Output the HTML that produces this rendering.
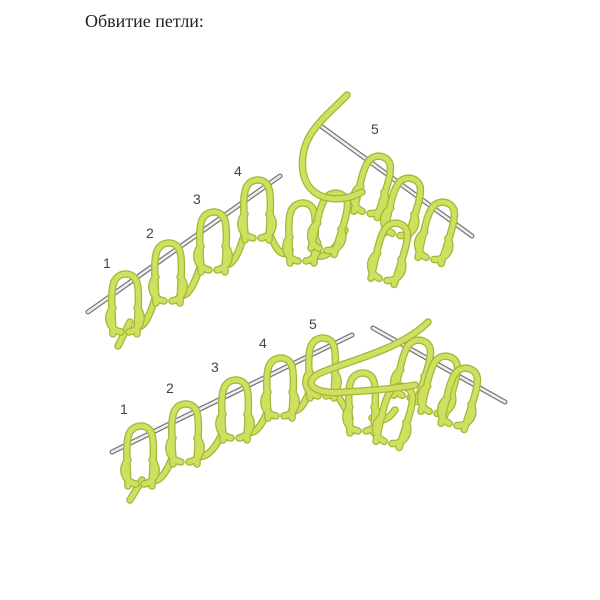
<!DOCTYPE html>
<html><head><meta charset="utf-8"><style>
html,body{margin:0;padding:0;background:#fff;width:600px;height:600px;overflow:hidden}
</style></head><body>
<svg width="600" height="600" viewBox="0 0 600 600" xmlns="http://www.w3.org/2000/svg">
<defs>
<path id="sp" d="M-12,48 C-13,22 -15,2 -10,-6 C-5,-14 7,-14 11,-6 C15,2 13,22 12,48 M-12,22 C-20,30 -16,44 -4,46 M12,22 C20,30 16,44 4,46"/>
<g id="L">
<use href="#sp" fill="none" stroke="#a3b636" stroke-width="7.5" stroke-linecap="round"/>
<use href="#sp" fill="none" stroke="#cfe060" stroke-width="5" stroke-linecap="round"/>
</g>
<path id="ch" d="M137,326 Q146,330 156,295 M180,295 Q190,299 201,264 M225,264 Q235,268 245,232 M269,232 Q280,262 290,250 M314,255 Q330,262 345,230
M152,480 Q162,484 173,456 M197,456 Q210,460 223,432 M247,432 Q258,436 268,410 M292,410 Q301,414 310,390 M334,390 Q346,408 350,418 M372,418 Q385,425 395,410
M118,346 L130,322 M130,500 L142,480"/>
<path id="st" d="M347,95 C325,118 298,135 303,172 C308,200 338,205 362,192 M428,322 C400,350 350,360 318,374 C300,386 320,395 345,392 C380,390 400,388 415,385"/>
</defs>
<text x="85" y="27" font-family="Liberation Serif, serif" font-size="18" fill="#222">Обвитие петли:</text>

<g fill="none" stroke-linecap="round">
<line x1="88" y1="312" x2="280" y2="176" stroke="#777" stroke-width="5"/>
<line x1="88" y1="312" x2="280" y2="176" stroke="#eee" stroke-width="2.5"/>
<line x1="318" y1="124" x2="472" y2="236" stroke="#777" stroke-width="5"/>
<line x1="318" y1="124" x2="472" y2="236" stroke="#eee" stroke-width="2.5"/>
<line x1="112" y1="452" x2="352" y2="335" stroke="#777" stroke-width="5"/>
<line x1="112" y1="452" x2="352" y2="335" stroke="#eee" stroke-width="2.5"/>
<line x1="373" y1="328" x2="505" y2="402" stroke="#777" stroke-width="5"/>
<line x1="373" y1="328" x2="505" y2="402" stroke="#eee" stroke-width="2.5"/>
</g>

<g fill="none" stroke-linecap="round">
<use href="#ch" stroke="#a3b636" stroke-width="7.5"/>
<use href="#ch" stroke="#cfe060" stroke-width="5"/>
</g>

<use href="#L" x="125" y="286"/>
<use href="#L" x="168" y="255"/>
<use href="#L" x="213" y="224"/>
<use href="#L" x="257" y="192"/>
<use href="#L" x="302" y="215"/>
<use href="#L" x="335" y="205" transform="rotate(15 335 205)"/>
<use href="#L" x="378" y="168" transform="rotate(15 378 168)"/>
<use href="#L" x="408" y="190" transform="rotate(15 408 190)"/>
<use href="#L" x="442" y="214" transform="rotate(15 442 214)"/>
<use href="#L" x="395" y="235" transform="rotate(15 395 235)"/>

<use href="#L" x="140" y="438"/>
<use href="#L" x="185" y="416"/>
<use href="#L" x="235" y="392"/>
<use href="#L" x="280" y="370"/>
<use href="#L" x="322" y="350"/>
<use href="#L" x="362" y="385"/>
<use href="#L" x="418" y="352" transform="rotate(15 418 352)"/>
<use href="#L" x="445" y="368" transform="rotate(15 445 368)"/>
<use href="#L" x="465" y="380" transform="rotate(15 465 380)"/>
<use href="#L" x="400" y="398" transform="rotate(15 400 398)"/>

<g fill="none" stroke-linecap="round">
<use href="#st" stroke="#a3b636" stroke-width="7.5"/>
<use href="#st" stroke="#cfe060" stroke-width="5"/>
</g>

<g font-family="Liberation Sans, sans-serif" font-size="14" fill="#444">
<text x="103" y="268">1</text>
<text x="146" y="238">2</text>
<text x="193" y="204">3</text>
<text x="234" y="176">4</text>
<text x="371" y="134">5</text>
<text x="120" y="414">1</text>
<text x="166" y="393">2</text>
<text x="211" y="372">3</text>
<text x="259" y="348">4</text>
<text x="309" y="329">5</text>
</g>
</svg>
</body></html>
